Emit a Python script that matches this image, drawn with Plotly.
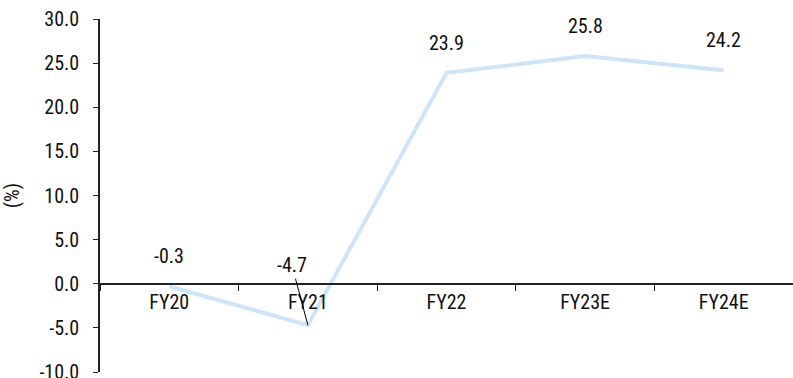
import plotly.graph_objects as go

categories = ["FY20", "FY21", "FY22", "FY23E", "FY24E"]
values = [-0.3, -4.7, 23.9, 25.8, 24.2]
labels = ["-0.3", "-4.7", "23.9", "25.8", "24.2"]
y_ticks = [-10, -5, 0, 5, 10, 15, 20, 25, 30]
y_ticktext = ["-10.0", "-5.0", "0.0", "5.0", "10.0", "15.0", "20.0", "25.0", "30.0"]

FONT = "Liberation Sans Narrow, Roboto Condensed, DejaVu Sans Condensed, sans-serif"

fig = go.Figure()
fig.add_trace(go.Scatter(
    x=categories, y=values, mode="lines",
    line=dict(color="#cde4f9", width=4),
    hoverinfo="skip", showlegend=False,
))

annotations = []
for c, v, t in zip(categories, values, labels):
    if c == "FY21":
        annotations.append(dict(x=c, y=v, xref="x", yref="y", text=t,
                                showarrow=True, arrowhead=0, arrowwidth=1,
                                arrowcolor="#000000", ax=-16, ay=-60,
                                standoff=0, font=dict(size=20, color="#111111", family=FONT)))
    else:
        annotations.append(dict(x=c, y=v, xref="x", yref="y", text=t,
                                showarrow=False, yshift=30,
                                font=dict(size=20, color="#111111", family=FONT)))

fig.update_layout(
    width=793, height=378,
    margin=dict(l=100, r=0, t=19, b=6, autoexpand=False),
    paper_bgcolor="white", plot_bgcolor="white",
    font=dict(family=FONT, size=20, color="#111111"),
    annotations=annotations,
    xaxis=dict(
        type="category", range=[-0.5, 4.5],
        anchor="free", position=0.25, automargin=False,
        showline=True, linecolor="#222222", linewidth=1.5,
        ticks="outside", tickson="boundaries", ticklen=6, tickcolor="#222222",
        showgrid=False, zeroline=False,
        tickfont=dict(size=20, family=FONT, color="#111111"),
    ),
    yaxis=dict(
        range=[-10, 30], tickvals=y_ticks, ticktext=y_ticktext,
        automargin=False,
        showline=True, linecolor="#222222", linewidth=1.5,
        ticks="outside", ticklen=5, tickcolor="#222222",
        showgrid=False, zeroline=False,
        ticklabelstandoff=10, ticklabeloverflow="allow",
        title=dict(text="(%)", standoff=14, font=dict(size=20, family=FONT, color="#111111")),
        tickfont=dict(size=20, family=FONT, color="#111111"),
    ),
)

fig.write_html("out.html")
